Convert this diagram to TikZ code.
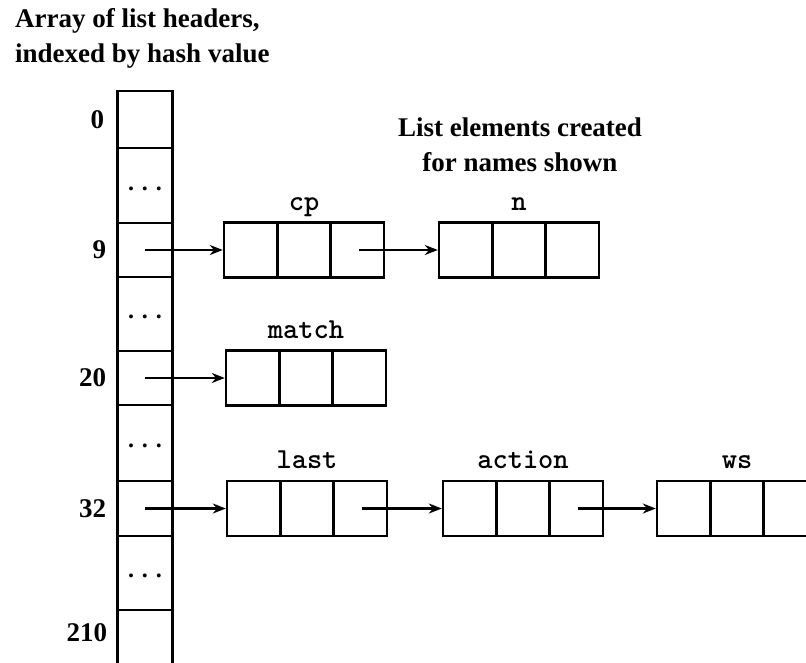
\documentclass[tikz,border=0pt]{standalone}
\usepackage{fontspec}
\setmainfont{Liberation Serif}
\usetikzlibrary{positioning, arrows.meta, calc}

\begin{document}
\begin{tikzpicture}[x=1pt, y=-1pt,
    slot/.style={draw, line width=2.4pt, minimum width=55pt, inner sep=0pt},
    elem/.style={draw, line width=2.4pt, minimum width=160pt, minimum height=55pt, inner sep=0pt,
        path picture={
            \foreach \f in {1,2}
                \draw[line width=2.4pt] ($(path picture bounding box.south west)!\f/3!(path picture bounding box.south east)$)
                    -- ($(path picture bounding box.north west)!\f/3!(path picture bounding box.north east)$);
        }},
    elemname/.style={font=\fontsize{29}{32}\selectfont\ttfamily\bfseries, anchor=base, inner sep=0pt},
    idx/.style={font=\fontsize{27}{32}\selectfont\bfseries, inner sep=0pt},
    gap/.style={font=\fontsize{24}{28}\selectfont\bfseries, inner sep=0pt, yshift=-3pt},
    caption/.style={font=\fontsize{27}{35}\selectfont\bfseries, inner sep=0pt},
    ptr/.style={-{Stealth[length=13pt, width=10pt]}, line width=2.4pt}
]
    \useasboundingbox (0,0) rectangle (806,662);
    \clip (0,0) rectangle (806,662);

    % captions
    \node[caption, align=left, anchor=north west] (hdrtext) at (15,8)
        {Array of list headers,\\indexed by hash value};
    \node[caption, align=center, anchor=north] (elemtext) at (520,118)
        {List elements created\\for names shown};

    % hash table column
    \node[slot, minimum height=57pt] (c0)   at (145,119.5) {};
    \node[slot, minimum height=75pt] (d1)   at (145,185.5) {};
    \node[slot, minimum height=54pt] (c9)   at (145,250)   {};
    \node[slot, minimum height=74pt] (d2)   at (145,314)   {};
    \node[slot, minimum height=54pt] (c20)  at (145,378)   {};
    \node[slot, minimum height=76pt] (d3)   at (145,443)   {};
    \node[slot, minimum height=55pt] (c32)  at (145,508.5) {};
    \node[slot, minimum height=74pt] (d4)   at (145,573)   {};
    \node[slot, minimum height=90pt] (c210) at (145,655)   {};

    \node[idx, left=12pt of c0]   {0};
    \node[idx, left=10pt of c9]   {9};
    \node[idx, left=10pt of c20]  {20};
    \node[idx, left=10pt of c32]  {32};
    \node[idx, anchor=east] at ([xshift=-9pt, yshift=22pt]c210.west) {210};

    \node[gap] at (d1) {.\hspace{8pt}.\hspace{8pt}.};
    \node[gap] at (d2) {.\hspace{8pt}.\hspace{8pt}.};
    \node[gap] at (d3) {.\hspace{8pt}.\hspace{8pt}.};
    \node[gap] at (d4) {.\hspace{8pt}.\hspace{8pt}.};

    % list elements
    \node[elem] (cp)     at (304,250)   {};
    \node[elem] (n)      at (519,250)   {};
    \node[elem] (match)  at (306,378)   {};
    \node[elem] (last)   at (307,508.5) {};
    \node[elem] (action) at (523,508.5) {};
    \node[elem] (ws)     at (737,508.5) {};

    \node[elemname] at ([yshift=11pt]cp.north)     {cp};
    \node[elemname] at ([yshift=11pt]n.north)      {n};
    \node[elemname] at ([yshift=11pt]match.north)  {match};
    \node[elemname] at ([yshift=11pt]last.north)   {last};
    \node[elemname] at ([yshift=11pt]action.north) {action};
    \node[elemname] at ([yshift=11pt]ws.north)     {ws};

    % pointers
    \draw[ptr] (c9.center) -- (cp.west);
    \draw[ptr] ([xshift=-26.7pt]cp.east) -- (n.west);
    \draw[ptr] (c20.center) -- (match.west);
    \draw[ptr] (c32.center) -- (last.west);
    \draw[ptr] ([xshift=-26.7pt]last.east) -- (action.west);
    \draw[ptr] ([xshift=-26.7pt]action.east) -- (ws.west);
\end{tikzpicture}
\end{document}
